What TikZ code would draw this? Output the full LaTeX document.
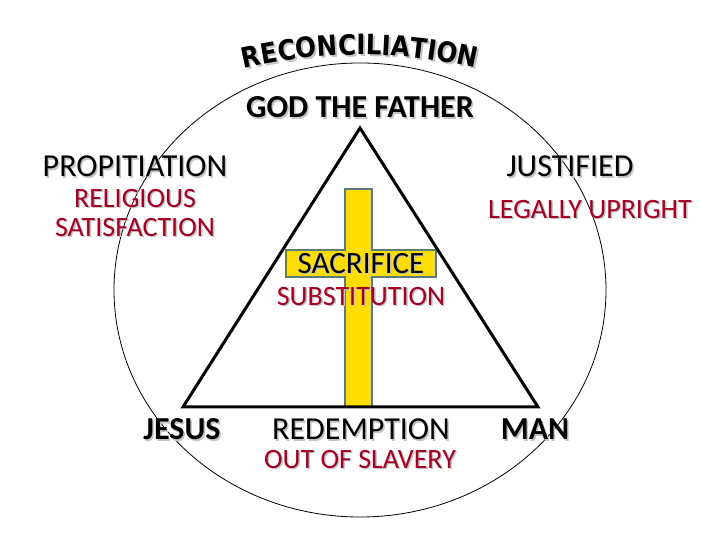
\documentclass[tikz,border=0pt]{standalone}
\usepackage{fontspec}
\setmainfont{Carlito}
\newfontfamily\heavyfont[FakeStretch=0.88]{DejaVu Sans}
\usetikzlibrary{decorations.text}
\definecolor{rubric}{HTML}{A50021}
\definecolor{crossgold}{HTML}{FFDD00}
\definecolor{crossedge}{HTML}{5E7B7B}
\definecolor{shadegray}{HTML}{C4C4C4}

% soft drop shadow behind a line of text
\newcommand{\shad}[1]{\leavevmode\rlap{\hspace{1.5pt}\raisebox{-1.5pt}{\textcolor{shadegray}{#1}}}#1}

\begin{document}
\begin{tikzpicture}[x=1pt, y=1pt,
  term/.style={font=\fontsize{32}{34}\selectfont, text=black, inner sep=0pt},
  party/.style={font=\fontsize{32}{34}\selectfont\bfseries, text=black, inner sep=0pt},
  meaning/.style={font=\fontsize{28}{29}\selectfont, text=rubric, align=center, inner sep=0pt},
  arcword/.style={decorate, decoration={text along path, text align=center,
    text color=#1, text={|\heavyfont\bfseries\fontsize{28}{28}\selectfont|RECONCILIATION}}},
]
\useasboundingbox (0,0) rectangle (720,540);

% Outer circle
\draw[line width=0.8pt] (360,250) ellipse [x radius=246, y radius=227];

% Title on the arc
\path[arcword=shadegray] (362,-27) ++(104:510) arc[start angle=104, end angle=76, radius=510];
\path[arcword=black] (360,-25) ++(104:510) arc[start angle=104, end angle=76, radius=510];

\node[party] (father) at (360,432) {\shad{GOD THE FATHER}};

% =============================================
% Cross and triangle
% =============================================
\draw[fill=crossgold, draw=crossedge, line width=1.5pt]
  (345,351) -- (372,351) -- (372,290) -- (436,290) -- (436,263) -- (372,263)
  -- (372,133) -- (345,133) -- (345,263) -- (286,263) -- (286,290) -- (345,290) -- cycle;

\coordinate (apex) at (360,412);
\coordinate (leftcorner) at (183,133);
\coordinate (rightcorner) at (538,133);
\draw[line width=3pt] (apex) -- (leftcorner) -- (rightcorner) -- cycle;

% =============================================
% Terms
% =============================================
\node[term] (propitiation) at (135,373) {\shad{PROPITIATION}};
\node[meaning] (religious) at (135,326.5) {\shad{RELIGIOUS}\\\shad{SATISFACTION}};

\node[term] (justified) at (570,373) {\shad{JUSTIFIED}};
\node[meaning] (upright) at (590,330) {\shad{LEGALLY UPRIGHT}};

\node[term, font=\fontsize{31}{33}\selectfont] (sacrifice) at (361,276) {\shad{SACRIFICE}};
\node[meaning] (substitution) at (361,243) {\shad{SUBSTITUTION}};

\node[party] (jesus) at (182,110) {\shad{JESUS}};
\node[term] (redemption) at (361,110) {\shad{REDEMPTION}};
\node[meaning] (slavery) at (360,80) {\shad{OUT OF SLAVERY}};
\node[party] (man) at (535,110) {\shad{MAN}};

\end{tikzpicture}
\end{document}
